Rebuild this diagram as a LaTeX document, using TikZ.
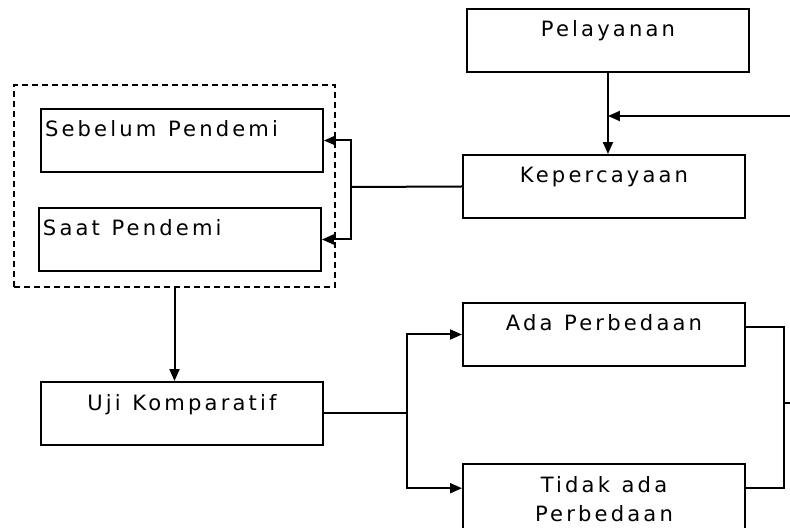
\documentclass[tikz,border=0pt]{standalone}
\usepackage{fontspec}
\usepackage{tikz}
\usetikzlibrary{arrows.meta}
\newfontfamily\boxfont{DejaVu Sans}[LetterSpace=15]
\protected\def\boxtext{\boxfont\fontsize{12pt}{17pt}\selectfont}

\begin{document}
\begin{tikzpicture}[x=0.02cm,y=-0.02cm,line width=0.04cm,
  box/.style={draw,anchor=north west,inner ysep=0pt,inner xsep=0.08cm,text width=5.48cm,
    align=center,text height=0.56cm,text depth=0.7cm,font=\boxtext,
    execute at begin node={\spaceskip=0.55em\relax}},
  lbox/.style={box,align=left},
  dashbox/.style={draw,dash pattern=on 0.12cm off 0.08cm,minimum width=6.42cm,minimum height=4.04cm,inner sep=0pt},
  arr/.style={-{Triangle[length=0.24cm,width=0.2cm]}}]
  \useasboundingbox (0,0) rectangle (790,527);
  \node[box] (pel) at (466,8) {Pelayanan};
  \node[box] (kep) at (462,154) {Kepercayaan};
  \node[lbox] (sbl) at (40,108) {Sebelum Pendemi};
  \node[lbox] (saat) at (38,207) {Saat Pendemi};
  \node[dashbox] (grp) at (174.5,186) {};
  \node[box] (uji) at (40,381) {Uji Komparatif};
  \node[box] (ada) at (462,302) {Ada Perbedaan};
  \node[box,text depth=1.6cm] (tdk) at (462,463) {Tidak ada\\Perbedaan};

  \coordinate (fb) at (790,116);
  \coordinate (brk) at (351,187);
  \coordinate (jl) at (407,413);
  \coordinate (jr) at (784,403);
  \coordinate (rt) at (790,403);

  \draw[arr] (pel.south) -- (pel.south |- kep.north);
  \draw[arr] (fb) -- (pel.south |- fb);
  \draw (kep.west) -- (brk);
  \draw[arr] (brk) |- (sbl.east);
  \draw[arr] (brk) |- (saat.east);
  \draw[arr] (grp.south) -- (grp.south |- uji.north);
  \draw (uji.east) -- (uji.east -| jl);
  \draw[arr] (jl) |- (ada.west);
  \draw[arr] (jl) |- (tdk.mid west);
  \draw (ada.mid east) -| (jr) |- (tdk.mid east);
  \draw (jr) -- (rt);
\end{tikzpicture}
\end{document}
